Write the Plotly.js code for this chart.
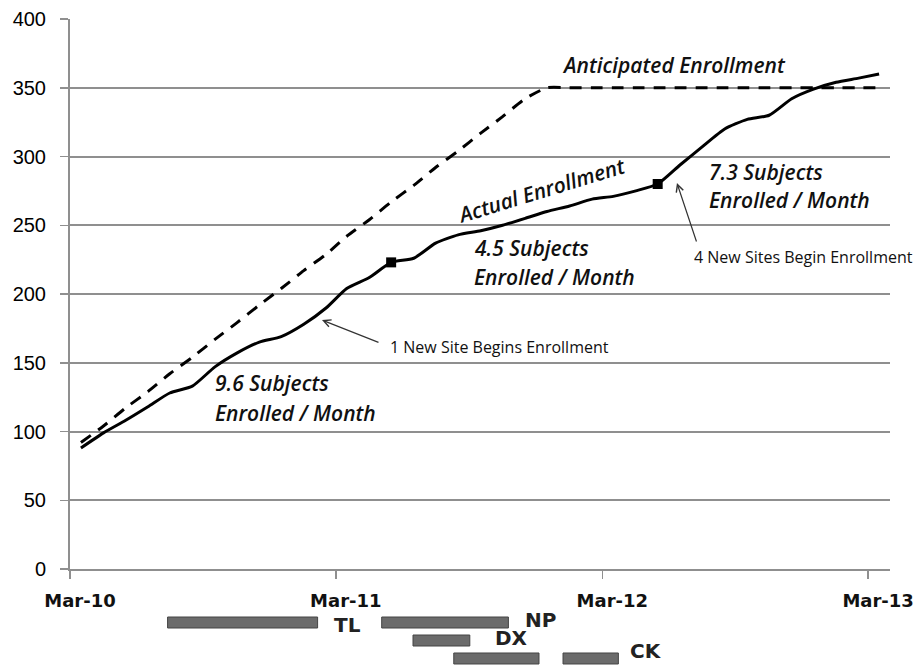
<!DOCTYPE html>
<html>
<head>
<meta charset="utf-8">
<script src="https://cdn.plot.ly/plotly-3.0.1.min.js"></script>
<style>html,body{margin:0;padding:0;background:#fff;}#chart{width:920px;height:669px;}</style>
</head>
<body>
<div id="chart"></div>
<script>
// ---- data ----
var months = ['2010-03-16','2010-04-16','2010-05-16','2010-06-16','2010-07-16','2010-08-16','2010-09-16','2010-10-16','2010-11-16','2010-12-16',
  '2011-01-16','2011-02-16','2011-03-16','2011-04-16','2011-05-16','2011-06-16','2011-07-16','2011-08-16','2011-09-16','2011-10-16','2011-11-16','2011-12-16',
  '2012-01-16','2012-02-16','2012-03-16','2012-04-16','2012-05-16','2012-06-16','2012-07-16','2012-08-16','2012-09-16','2012-10-16','2012-11-16','2012-12-16',
  '2013-01-16','2013-02-16','2013-03-16'];
var actual = [88,99,108,118,128,133,147,157,165,169,178,190,204,212,223,226,237,243,246,250,255,260,264,269,271,275,280,294,307,320,327,330,342,349,354,357,360];
var anticipated = [92,104,117,129,142,154,167,179,192,204,217,229,242,254,267,279,292,304,317,329,342,350,350,350,350,350,350,350,350,350,350,350,350,350,350,350,350];
var markerIdx = [14, 26];
var tickDates = ['2010-03-01','2011-03-01','2012-03-01','2013-03-01'];
var tickLabels = ['Mar-10','Mar-11','Mar-12','Mar-13'];
var siteLabels = ['TL','NP','DX','CK'];
var barSite  = [0, 1, 2, 3, 3];
var barRow   = [0, 0, 1, 2, 2];
var barStart = ['2010-07-13','2011-05-03','2011-06-15','2011-08-10','2012-01-07'];
var barEnd   = ['2011-02-04','2011-10-24','2011-09-01','2011-12-05','2012-03-23'];

// ---- styling / layout constants ----
var rowY = [-0.0973, -0.1300, -0.1627];
var barHalf = 0.0100;
var labelDy = [-0.004, 0.005, 0.004, 0.014]; // label offset per site
var labelDx = [14, 15, 23, 10]; // pixel gap after bar end
var annFont = {family:'"Open Sans", Lato, sans-serif', size:21, color:'#111', style:'italic', weight:600};
var smallFont = {family:'"Open Sans", Lato, sans-serif', size:16, color:'#111'};
var boldFont = {family:'"DejaVu Sans", "Liberation Sans", sans-serif', size:20, color:'#222', weight:'bold'};

var traces = [
  {x: months, y: anticipated, type:'scatter', mode:'lines', line:{color:'#000', width:3, dash:'12px,9px', shape:'spline', smoothing:0.6}, hoverinfo:'skip'},
  {x: months, y: actual, type:'scatter', mode:'lines', line:{color:'#000', width:3, shape:'spline', smoothing:0.6}, hoverinfo:'skip'},
  {x: markerIdx.map(function(i){return months[i];}), y: markerIdx.map(function(i){return actual[i];}), type:'scatter', mode:'markers',
   marker:{symbol:'square', size:10, color:'#000'}, hoverinfo:'skip'}
];

var shapes = [];
var annotations = [];
for (var i = 0; i < barStart.length; i++) {
  shapes.push({type:'rect', xref:'x', yref:'paper', x0:barStart[i], x1:barEnd[i],
    y0:rowY[barRow[i]] - barHalf, y1:rowY[barRow[i]] + barHalf,
    fillcolor:'#6b6b6b', line:{color:'#444', width:1}});
}
siteLabels.forEach(function(lbl, s){
  var last = -1;
  for (var i = 0; i < barSite.length; i++) if (barSite[i] === s) last = i;
  annotations.push({xref:'x', yref:'paper', x:barEnd[last], y:rowY[barRow[last]] + labelDy[s],
    xanchor:'left', yanchor:'middle', xshift:labelDx[s], showarrow:false, text:lbl, font:boldFont});
});

function txt(t, x, y, anchor, font, angle){
  annotations.push({xref:'paper', yref:'paper', x:x, y:y, xanchor:anchor, yanchor:'middle', text:t, showarrow:false, font:font, textangle:angle||0});
}
txt('Anticipated Enrollment', 0.7366, 0.9164, 'center', annFont);
txt('Actual Enrollment', 0.5756, 0.689, 'center', annFont, -17);
txt('4.5 Subjects', 0.4902, 0.5836, 'left', annFont);
txt('Enrolled / Month', 0.4902, 0.5309, 'left', annFont);
txt('7.3 Subjects', 0.7768, 0.7218, 'left', annFont);
txt('Enrolled / Month', 0.7768, 0.6709, 'left', annFont);
txt('9.6 Subjects', 0.1744, 0.3382, 'left', annFont);
txt('Enrolled / Month', 0.1744, 0.2836, 'left', annFont);
txt('1 New Site Begins Enrollment', 0.3878, 0.4036, 'left', smallFont);
txt('4 New Sites Begin Enrollment', 0.7585, 0.567, 'left', smallFont);
// arrows
annotations.push({xref:'paper', yref:'paper', x:0.3073, y:0.4527, ax:58, ay:23, text:'', showarrow:true, arrowhead:5, arrowsize:1.2, arrowwidth:1.2, arrowcolor:'#333'});
annotations.push({xref:'paper', yref:'paper', x:0.7402, y:0.7018, ax:20, ay:60, text:'', showarrow:true, arrowhead:5, arrowsize:1.2, arrowwidth:1.2, arrowcolor:'#333'});

var layout = {
  width:920, height:669,
  margin:{l:70, r:30, t:19, b:100},
  paper_bgcolor:'#fff', plot_bgcolor:'#fff',
  showlegend:false,
  xaxis:{type:'date', range:['2010-03-01','2013-03-31'], tickvals:tickDates, ticktext:tickLabels,
    showgrid:false, zeroline:false, showline:true, linecolor:'#8f8f8f', linewidth:2,
    ticks:'outside', ticklen:8, tickwidth:1.5, tickcolor:'#8f8f8f', ticklabelstandoff:6, ticklabelshift:10,
    tickfont:{family:'"DejaVu Sans", "Liberation Sans", sans-serif', size:18, color:'#111', weight:'bold'}},
  yaxis:{range:[0,400], dtick:50, tick0:0, showgrid:true, gridcolor:'#8f8f8f', gridwidth:2,
    zeroline:false, showline:true, linecolor:'#8f8f8f', linewidth:2,
    ticks:'outside', ticklen:8, tickwidth:1.5, tickcolor:'#8f8f8f', ticklabelstandoff:10,
    tickfont:{family:'"Liberation Sans", Arial, sans-serif', size:20, color:'#000'}},
  shapes:shapes,
  annotations:annotations
};

Plotly.newPlot('chart', traces, layout, {staticPlot:true, displayModeBar:false});
</script>
</body>
</html>
